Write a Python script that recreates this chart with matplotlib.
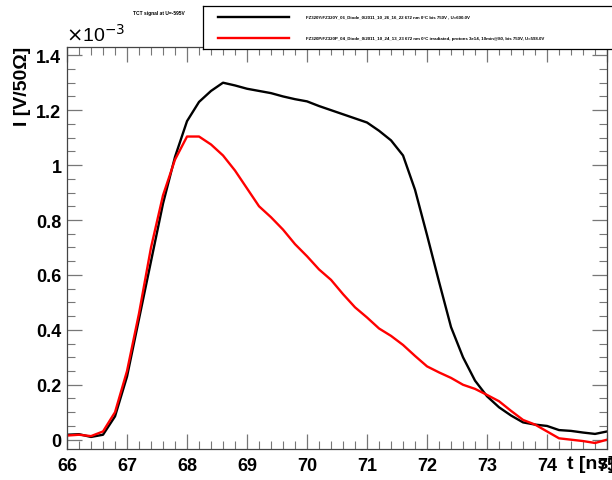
"""
TCT signal comparison: non-irradiated vs proton-irradiated diode.
"""
import matplotlib
matplotlib.use('Agg')
import matplotlib.pyplot as plt
from matplotlib.ticker import MultipleLocator, FormatStrFormatter
import numpy as np

# time axis in ns (0.2 ns sampling)
time_ns = np.round(np.arange(66.0, 75.01, 0.2), 1)

# current in units of 1e-3 V/50Ohm
black_signal = [0.018, 0.020, 0.010, 0.018, 0.085, 0.23, 0.44, 0.65, 0.86, 1.03,
                1.16, 1.23, 1.27, 1.30, 1.29, 1.278, 1.27, 1.262, 1.25, 1.24,
                1.232, 1.215, 1.20, 1.185, 1.17, 1.155, 1.125, 1.09, 1.035, 0.91,
                0.745, 0.575, 0.41, 0.30, 0.215, 0.158, 0.118, 0.088, 0.063, 0.055,
                0.050, 0.035, 0.032, 0.026, 0.021, 0.030]
red_signal = [0.015, 0.018, 0.013, 0.030, 0.10, 0.25, 0.46, 0.70, 0.89, 1.02,
              1.104, 1.104, 1.075, 1.035, 0.98, 0.915, 0.85, 0.81, 0.765, 0.712,
              0.668, 0.62, 0.582, 0.53, 0.482, 0.445, 0.405, 0.378, 0.345, 0.305,
              0.267, 0.245, 0.225, 0.200, 0.185, 0.163, 0.140, 0.105, 0.072, 0.055,
              0.030, 0.005, 0.000, -0.005, -0.012, 0.000]

legend_labels = [
    "FZ320Y/FZ320Y_06_Diode_0/2011_10_26_16_22 672 nm 0\u00b0C bis 750V , U=600.0V",
    "FZ320P/FZ320P_04_Diode_0/2011_10_24_13_23 672 nm 0\u00b0C irradiated, protons 3e14, 10min@80, bis 750V, U=598.0V",
]
title_text = "TCT signal at U=-595V"

plt.rcParams['font.family'] = ['Liberation Sans', 'DejaVu Sans']

fig = plt.figure(figsize=(6.12, 4.81), dpi=100)
ax = fig.add_axes([0.1095, 0.0644, 0.8824, 0.8358])

line_b, = ax.plot(time_ns, black_signal, color='black', lw=1.7)
line_r, = ax.plot(time_ns, red_signal, color='#ff0000', lw=1.7)

ax.set_xlim(66, 75)
ax.set_ylim(-0.034, 1.43)

# ROOT-like ticks: inside, mirrored on all sides
ax.xaxis.set_major_locator(MultipleLocator(1))
ax.xaxis.set_minor_locator(MultipleLocator(0.2))
ax.yaxis.set_major_locator(MultipleLocator(0.2))
ax.yaxis.set_minor_locator(MultipleLocator(0.05))
ax.yaxis.set_major_formatter(FormatStrFormatter('%g'))
ax.xaxis.set_major_formatter(FormatStrFormatter('%g'))
ax.tick_params(which='both', direction='in', top=True, right=True, color='#777777')
ax.tick_params(which='major', length=11, width=0.9, labelsize=13, pad=6)
ax.tick_params(which='minor', length=6, width=0.8)
ax.tick_params(axis='y', which='major', pad=4)
for lbl in ax.get_xticklabels() + ax.get_yticklabels():
    lbl.set_fontweight('bold')
for sp in ax.spines.values():
    sp.set_color('#444444')
    sp.set_linewidth(0.9)

# exponent and axis titles
fig.text(0.108, 0.905, r'$\times$10$^{-3}$', fontsize=14, ha='left', va='bottom')
fig.text(0.036, 0.903, 'I [V/50\u03a9]', rotation=90, fontsize=14, fontweight='bold',
         ha='center', va='top')
fig.text(1.004, 0.035, 't [ns]', fontsize=14, fontweight='bold', ha='right', va='center')

# title
fig.text(0.218, 0.972, title_text, fontsize=3.5, fontweight='bold', ha='left', va='center')

# legend box (runs off the right edge like in the original)
leg = fig.add_axes([0.332, 0.896, 0.7, 0.09])
leg.set_xlim(0, 1)
leg.set_ylim(0, 1)
leg.set_xticks([])
leg.set_yticks([])
for sp in leg.spines.values():
    sp.set_linewidth(0.9)
ys = [0.75, 0.26]
for y, lab, src in zip(ys, legend_labels, [line_b, line_r]):
    leg.plot([0.035, 0.2], [y, y], color=src.get_color(), lw=1.7)
    leg.text(0.24, y, lab, fontsize=3.2, fontweight='bold', va='center', ha='left')

fig.savefig('out.png', dpi=100)
plt.close(fig)
